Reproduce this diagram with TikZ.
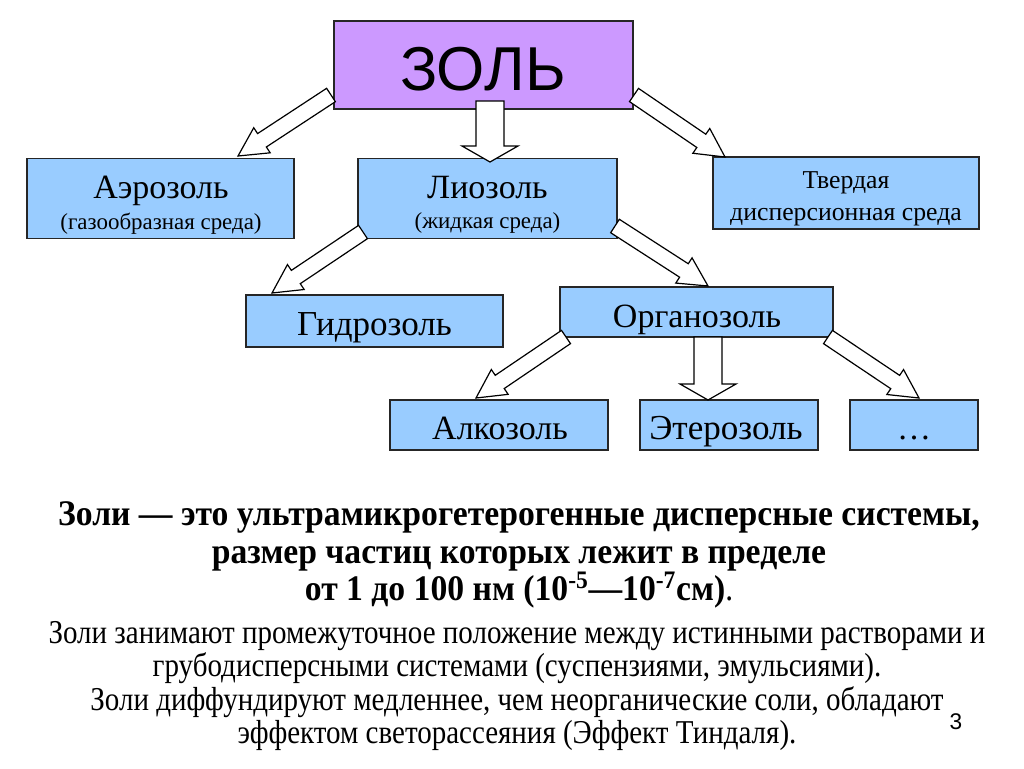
\documentclass[tikz,border=0pt]{standalone}
\usepackage{fontspec}
\setmainfont{Liberation Serif}
\newfontfamily\arialf{Liberation Sans}
\newfontfamily\condf[FakeStretch=0.87]{Liberation Serif}
\newfontfamily\condbf[FakeStretch=0.935]{Liberation Serif Bold}
\usetikzlibrary{calc}
\definecolor{boxblue}{HTML}{99CCFF}
\definecolor{boxpurple}{HTML}{CC99FF}
\tikzset{
  box/.style={draw=black!85, line width=0.9pt, fill=boxblue, inner sep=0pt},
  lbl/.style={anchor=base, inner sep=0pt, font=\fontsize{25.5}{27}\selectfont},
  sub/.style={anchor=base, inner sep=0pt, font=\fontsize{17.2}{19}\selectfont},
  blockarr/.style={draw=black, line width=0.9pt, fill=white, line join=miter},
}
\newcommand\blockarrow[5]{%
  \coordinate (hb) at ($(#2)!#5!(#1)$);
  \draw[blockarr] ($(#1)!#3!90:(#2)$) -- ($(hb)!#3!90:(#2)$) -- ($(hb)!#4!90:(#2)$) -- (#2)
    -- ($(hb)!#4!-90:(#2)$) -- ($(hb)!#3!-90:(#2)$) -- ($(#1)!#3!-90:(#2)$) -- cycle;}
\begin{document}
\begin{tikzpicture}[x=0.75pt,y=-0.75pt]
\useasboundingbox[fill=white] (0,0) rectangle (1024,768);
% boxes
\node[box, fill=boxpurple, minimum width=299*0.75pt, minimum height=88*0.75pt] (zol) at (483.5,65) {};
\node[box, minimum width=267*0.75pt, minimum height=80*0.75pt] (aero) at (160.5,198.5) {};
\node[box, minimum width=259*0.75pt, minimum height=80*0.75pt] (lio) at (487.5,198.5) {};
\node[box, minimum width=266*0.75pt, minimum height=72*0.75pt] (tverd) at (846,193) {};
\node[box, minimum width=257*0.75pt, minimum height=52*0.75pt] (gidro) at (374.5,321) {};
\node[box, minimum width=273*0.75pt, minimum height=50*0.75pt] (organo) at (696.5,312) {};
\node[box, minimum width=218*0.75pt, minimum height=50*0.75pt] (alko) at (499,425) {};
\node[box, minimum width=178*0.75pt, minimum height=50*0.75pt] (etero) at (729,425) {};
\node[box, minimum width=128*0.75pt, minimum height=50*0.75pt] (dots) at (914,425) {};
% box texts
\node[anchor=base, inner sep=0pt, font=\arialf\fontsize{46.5}{48}\selectfont] (zolT) at (483,90) {ЗОЛЬ};
\node[lbl] (aeroL) at (161,198) {Аэрозоль};
\node[sub] (aeroS) at (161,229) {(газообразная среда)};
\node[lbl] (lioL) at (487.5,198) {Лиозоль};
\node[sub] (lioS) at (487.5,228) {(жидкая среда)};
\node[anchor=base, inner sep=0pt, font=\fontsize{19.3}{21}\selectfont] (tverdL) at (846,188) {Твердая};
\node[anchor=base, inner sep=0pt, font=\fontsize{19.3}{21}\selectfont] (tverdS) at (846,220) {дисперсионная среда};
\node[lbl, font=\fontsize{26.3}{28}\selectfont] (gidroL) at (374.5,335) {Гидрозоль};
\node[lbl] (organoL) at (697,327) {Органозоль};
\node[lbl] (alkoL) at (500,439) {Алкозоль};
\node[lbl, font=\fontsize{26.3}{28}\selectfont] (eteroL) at (726,439) {Этерозоль};
\node[lbl] (dotsL) at (914,439) {\dots};
% arrow end points
\coordinate (z1) at (331,95);  \coordinate (aeroT) at (238,156);
\coordinate (z2) at (490,101); \coordinate (lioT) at (490,162);
\coordinate (z3) at (634,95);  \coordinate (tverdT) at (725,157);
\coordinate (l1) at (363,232); \coordinate (gidroT) at (272,293);
\coordinate (l2) at (615,226); \coordinate (organoT) at (708,286);
\coordinate (o1) at (566,337); \coordinate (alkoT) at (476,398);
\coordinate (o2) at (708,337); \coordinate (eteroT) at (708,400);
\coordinate (o3) at (828,337); \coordinate (dotsT) at (919,398);
% arrows
\blockarrow{z1}{aeroT}{6pt}{11.25pt}{21.5pt}
\blockarrow{z2}{lioT}{10.5pt}{21pt}{12pt}
\blockarrow{z3}{tverdT}{6pt}{11.25pt}{21.5pt}
\blockarrow{l1}{gidroT}{6pt}{11.25pt}{21.5pt}
\blockarrow{l2}{organoT}{6pt}{11.25pt}{21.5pt}
\blockarrow{o1}{alkoT}{6pt}{11.25pt}{21.5pt}
\blockarrow{o2}{eteroT}{10.5pt}{21pt}{12pt}
\blockarrow{o3}{dotsT}{6pt}{11.25pt}{21.5pt}
% text
\node[align=center, font=\condbf\fontsize{27}{28}\selectfont] (def) at (519,555)
  {Золи — это ультрамикрогетерогенные дисперсные системы,\\
   размер частиц которых лежит в пределе\\
   от 1 до 100 нм (10\textsuperscript{-5}—10\textsuperscript{-7}см){\condf .}};
\node[align=center, font=\condf\fontsize{25}{25}\selectfont] (txt) at (517,686)
  {Золи занимают промежуточное положение между истинными растворами и\\
   грубодисперсными системами (суспензиями, эмульсиями).\\
   Золи диффундируют медленнее, чем неорганические соли, обладают\\
   эффектом светорассеяния (Эффект Тиндаля).};
\node[font=\arialf\fontsize{17}{18}\selectfont] (pg) at (956,722) {3};
\end{tikzpicture}
\end{document}
